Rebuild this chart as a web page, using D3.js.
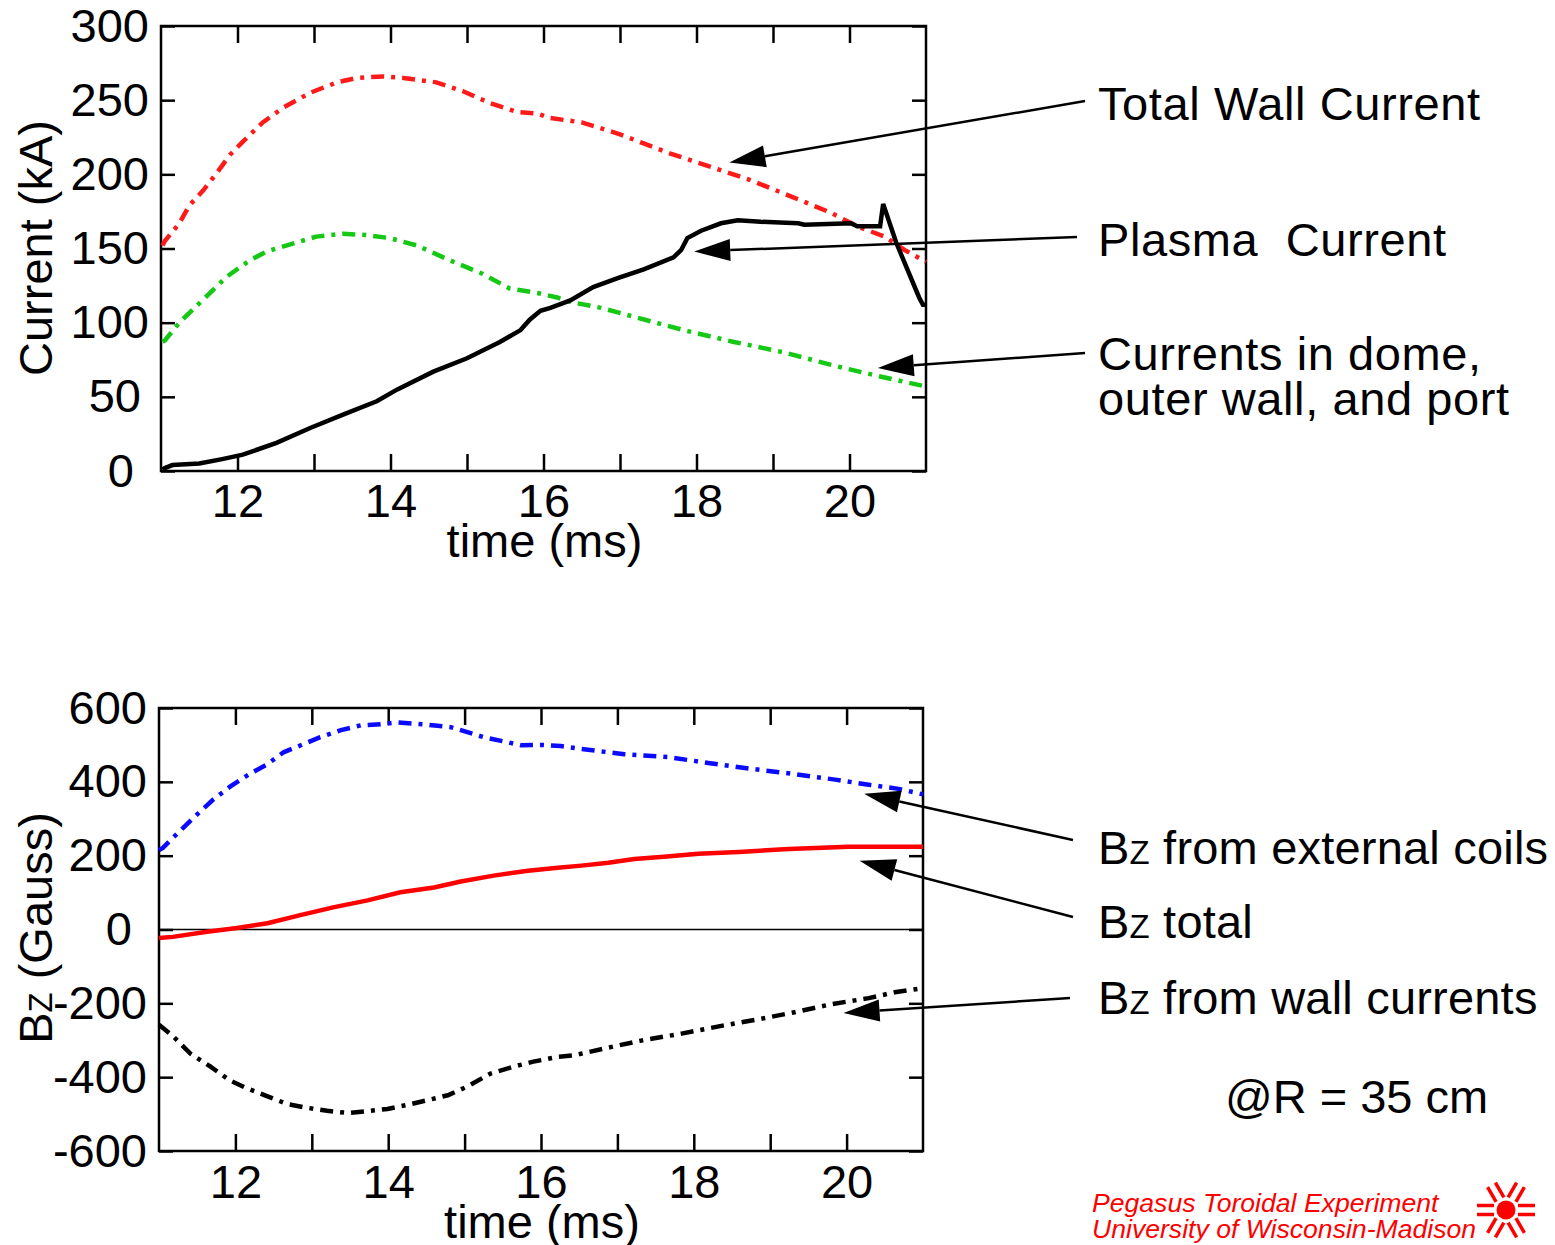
<!DOCTYPE html>
<html>
<head>
<meta charset="utf-8">
<script src="https://cdn.jsdelivr.net/npm/d3@7"></script>
<style>
  body { margin: 0; background: #fff; }
  svg { display: block; }
  text { font-family: "Liberation Sans", Arial, Helvetica, sans-serif; }
</style>
</head>
<body>
<div id="chart"></div>
<script>
// --- DATA (time in ms) ---
const xTicks = [12, 13, 14, 15, 16, 17, 18, 19, 20];
const currentTicks = [0, 50, 100, 150, 200, 250, 300];
const gaussTicks = [-600, -400, -200, 0, 200, 400, 600];

// top panel: currents (kA)
const wallTotal = [[11.02,152],[11.05,155],[11.24,167],[11.37,179],[11.55,189],[11.73,201],[11.9,213],[12.07,222],
  [12.33,235],[12.6,245],[12.95,255],[13.3,262],[13.56,265],[13.9,266],[14.17,265],[14.6,262],[14.95,256],
  [15.3,248],[15.66,242],[15.92,241],[16.08,238],[16.5,235],[17.0,227],[17.3,221],[17.66,214],[18.19,205],
  [18.71,196],[19.24,185],[19.76,174],[20.1,165],[20.46,158],[20.72,149],[21.0,141]];
const domeCurrent = [[11.02,87],[11.05,88],[11.24,100],[11.5,113],[11.86,131],[12.16,142],[12.38,148],[12.77,154],
  [13.03,158],[13.38,160],[13.69,159],[13.99,157],[14.35,152],[14.69,144],[14.87,140],[15.2,133],[15.56,123],
  [15.92,120],[16.18,117],[16.35,114],[16.75,110],[17.18,104],[17.83,95],[18.49,87],[19.14,80],[19.8,71],
  [20.46,63],[21.0,57]];
const plasmaCurrent = [[11.02,1],[11.05,2],[11.15,4],[11.5,5],[11.8,8],[12.07,11],[12.51,19],[12.95,29],[13.38,38],
  [13.82,47],[14.09,55],[14.56,67],[15.0,76],[15.43,87],[15.7,95],[15.82,102],[15.96,108],[16.09,110],[16.35,115],
  [16.65,124],[16.97,130],[17.31,136],[17.7,144],[17.8,149],[17.88,157],[18.06,162],[18.32,167],[18.54,169],
  [18.84,168],[19.33,167],[19.41,166],[20.02,167],[20.1,165],[20.4,165],[20.44,180],[20.48,174],[20.61,154],
  [20.74,138],[20.91,117],[20.96,112],[21.0,112]];

// bottom panel: Bz (Gauss)
const bzExternal = [[11.0,215],[11.05,221],[11.18,248],[11.31,274],[11.5,312],[11.71,352],[11.93,387],[12.19,422],
  [12.42,448],[12.63,480],[12.89,502],[13.11,521],[13.38,540],[13.64,553],[13.9,556],[14.12,561],[14.46,556],
  [14.82,548],[14.95,540],[15.25,521],[15.57,507],[15.74,499],[16.0,500],[16.26,497],[16.53,489],[17.09,475],
  [17.67,467],[18.19,451],[18.76,435],[19.28,422],[19.85,406],[20.29,392],[20.68,381],[21.0,366]];
const bzTotal = [[11.0,-23],[11.18,-20],[11.63,-6],[12.02,4],[12.42,17],[12.85,39],[13.28,60],[13.73,79],[14.16,101],
  [14.6,114],[14.95,130],[15.38,146],[15.83,159],[16.22,167],[16.53,173],[16.88,181],[17.22,191],[17.61,197],
  [18.06,205],[18.59,210],[19.24,218],[20.03,224],[21.0,224]];
const bzWall = [[11.0,-258],[11.18,-288],[11.41,-336],[11.67,-371],[11.93,-409],[12.15,-430],[12.42,-452],[12.68,-473],
  [12.94,-483],[13.2,-491],[13.47,-497],[13.77,-491],[13.99,-486],[14.25,-475],[14.52,-462],[14.78,-449],
  [15.04,-425],[15.34,-390],[15.65,-371],[15.9,-358],[16.22,-345],[16.43,-341],[16.88,-320],[17.31,-301],
  [17.84,-282],[18.36,-261],[18.85,-243],[19.32,-224],[19.81,-202],[20.29,-186],[20.63,-170],[21.0,-159]];

const DASHDOT = "13,7,4,7";
const FONT = 47;

const svg = d3.select("#chart").append("svg")
    .attr("width", 1555)
    .attr("height", 1245);

// --- PANEL ---
function drawPanel(p) {
    const x = d3.scaleLinear().domain([11, 21]).range([p.left, p.right]);
    const y = d3.scaleLinear().domain(p.yDomain).range([p.bottom, p.top]);
    const g = svg.append("g");

    // axes, ticks pointing inward on all four sides
    const styleAxis = sel => {
        sel.select(".domain").remove();
        sel.selectAll(".tick line").attr("stroke", "#000").attr("stroke-width", 2.5);
        sel.selectAll("text").attr("font-size", FONT).attr("fill", "#000")
            .style("font-family", '"Liberation Sans", Arial, sans-serif');
    };
    g.append("g").attr("transform", `translate(0,${p.bottom})`)
        .call(d3.axisBottom(x).tickValues(xTicks).tickSize(-17).tickPadding(p.xPad)
            .tickFormat(d => d % 2 === 0 ? d : ""))
        .call(styleAxis);
    g.append("g").attr("transform", `translate(0,${p.top})`)
        .call(d3.axisTop(x).tickValues(xTicks).tickSize(-17).tickFormat(""))
        .call(styleAxis);
    g.append("g").attr("transform", `translate(${p.left},0)`)
        .call(d3.axisLeft(y).tickValues(p.yTicks).tickSize(-14).tickPadding(12).tickFormat(d => String(d)))
        .call(styleAxis)
        .selectAll(".tick text")
        .attr("dx", d => String(d).length === 1 ? -15 : String(d).length === 2 ? -8 : 0);
    g.append("g").attr("transform", `translate(${p.right},0)`)
        .call(d3.axisRight(y).tickValues(p.yTicks).tickSize(-14).tickFormat(""))
        .call(styleAxis);

    if (p.zeroLine) {
        g.append("line")
            .attr("x1", p.left).attr("x2", p.right)
            .attr("y1", y(0)).attr("y2", y(0))
            .attr("stroke", "#000").attr("stroke-width", 1.5);
    }

    g.append("rect")
        .attr("x", p.left).attr("y", p.top)
        .attr("width", p.right - p.left).attr("height", p.bottom - p.top)
        .attr("fill", "none").attr("stroke", "#000").attr("stroke-width", 2.5);

    const line = d3.line().x(d => x(d[0])).y(d => y(d[1]));
    p.series.forEach(s => {
        g.append("path")
            .datum(s.data)
            .attr("d", line)
            .attr("fill", "none")
            .attr("stroke", s.color)
            .attr("stroke-width", 4.5)
            .attr("stroke-linejoin", "miter")
            .attr("stroke-dasharray", s.dash || null);
    });

    // x title
    g.append("text")
        .attr("x", (p.left + p.right) / 2 + 1).attr("y", p.xTitleY)
        .attr("text-anchor", "middle").attr("font-size", FONT)
        .text("time (ms)");

    // y title
    const yt = g.append("text")
        .attr("transform", `translate(52,${p.yTitleMid}) rotate(-90)`)
        .attr("text-anchor", "middle").attr("font-size", FONT);
    p.yTitle(yt);

    // annotations with arrows
    p.notes.forEach(n => {
        const tx = x(n.tip[0]), ty = y(n.tip[1]);
        const dx = tx - n.tail[0], dy = ty - n.tail[1];
        const len = Math.hypot(dx, dy), ux = dx / len, uy = dy / len;
        const L = 36, hw = 11;
        const bx = tx - ux * L, by = ty - uy * L;
        g.append("line")
            .attr("x1", n.tail[0]).attr("y1", n.tail[1])
            .attr("x2", bx).attr("y2", by)
            .attr("stroke", "#000").attr("stroke-width", 2.5);
        g.append("path")
            .attr("d", `M${tx},${ty}L${bx - uy * hw},${by + ux * hw}L${bx + uy * hw},${by - ux * hw}Z`)
            .attr("fill", "#000");
        n.lines.forEach((t, i) => {
            const txt = g.append("text")
                .attr("x", n.textX).attr("y", n.textY + i * 45)
                .attr("font-size", FONT)
                .attr("letter-spacing", p.labelSpacing)
                .attr("xml:space", "preserve");
            t(txt);
        });
    });
}

const plain = s => t => t.text(s);
const bz = rest => t => {
    t.append("tspan").text("B");
    t.append("tspan").attr("font-size", FONT * 0.7).text("Z");
    t.append("tspan").text(rest);
};

drawPanel({
    left: 161, right: 926, top: 26, bottom: 471,
    yDomain: [0, 300], yTicks: currentTicks,
    xPad: 13, xTitleY: 557, yTitleMid: 248, labelSpacing: 0.6,
    yTitle: t => t.text("Current (kA)"),
    series: [
        { data: wallTotal, color: "#ff1a1a", dash: DASHDOT },
        { data: domeCurrent, color: "#14c814", dash: DASHDOT },
        { data: plasmaCurrent, color: "#000" }
    ],
    notes: [
        { tip: [18.43, 208], tail: [1085, 101], textX: 1098, textY: 120, lines: [plain("Total Wall Current")] },
        { tip: [17.97, 148], tail: [1077, 237], textX: 1098, textY: 256, lines: [plain("Plasma  Current")] },
        { tip: [20.37, 69.5], tail: [1085, 353], textX: 1098, textY: 370,
          lines: [plain("Currents in dome,"), plain("outer wall, and port")] }
    ]
});

drawPanel({
    left: 159, right: 923, top: 708, bottom: 1151,
    yDomain: [-600, 600], yTicks: gaussTicks,
    xPad: 14, xTitleY: 1238, yTitleMid: 928, zeroLine: true, labelSpacing: 0.2,
    yTitle: bz(" (Gauss)"),
    series: [
        { data: bzExternal, color: "#0a0aff", dash: DASHDOT },
        { data: bzTotal, color: "#ff0000" },
        { data: bzWall, color: "#000", dash: DASHDOT }
    ],
    notes: [
        { tip: [20.23, 368], tail: [1073, 840], textX: 1098, textY: 864, lines: [bz(" from external coils")] },
        { tip: [20.17, 186], tail: [1073, 917], textX: 1098, textY: 938, lines: [bz(" total")] },
        { tip: [19.96, -226], tail: [1070, 998], textX: 1098, textY: 1014, lines: [bz(" from wall currents")] }
    ]
});

svg.append("text")
    .attr("x", 1225).attr("y", 1113)
    .attr("font-size", FONT)
    .text("@R = 35 cm");

// --- FOOTER / LOGO ---
const footer = svg.append("g").attr("fill", "#ff0000");
["Pegasus Toroidal Experiment", "University of Wisconsin-Madison"].forEach((s, i) => {
    footer.append("text")
        .attr("x", 1092).attr("y", 1212 + i * 26)
        .attr("font-size", 26.6).attr("font-style", "italic")
        .text(s);
});
const logo = svg.append("g").attr("transform", "translate(1506,1210)");
logo.append("circle").attr("r", 9.5).attr("fill", "#ff0000");
d3.range(6).forEach(k => {
    const a = k * Math.PI / 3;
    const c = Math.cos(a), s = Math.sin(a);
    [-4.5, 4.5].forEach(off => {
        logo.append("line")
            .attr("x1", c * 12 - s * off).attr("y1", s * 12 + c * off)
            .attr("x2", c * 29 - s * off).attr("y2", s * 29 + c * off)
            .attr("stroke", "#ff0000").attr("stroke-width", 3.5);
    });
});
</script>
</body>
</html>
